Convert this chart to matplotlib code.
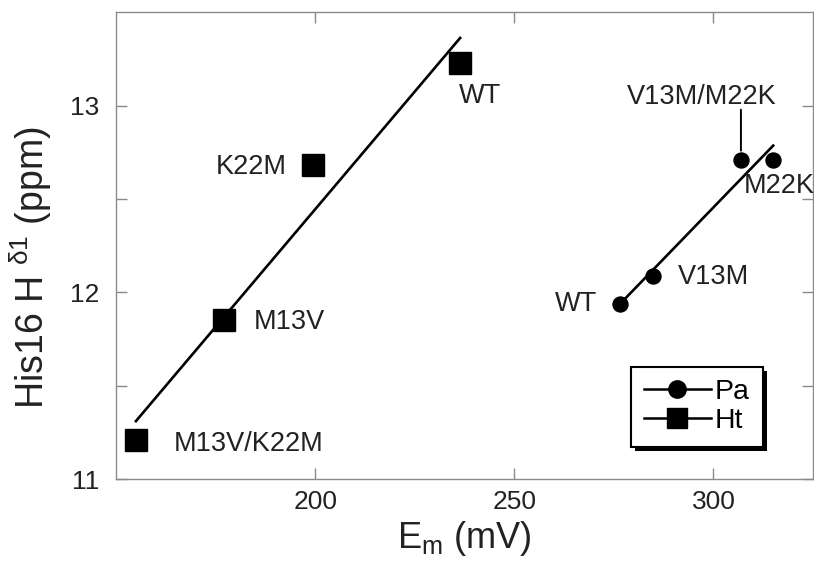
import numpy as np
import matplotlib
matplotlib.use('Agg')
import matplotlib.pyplot as plt
from matplotlib.lines import Line2D
from matplotlib.patches import Rectangle

plt.rcParams['font.family'] = ['Liberation Sans', 'DejaVu Sans']
plt.rcParams['mathtext.fontset'] = 'custom'
plt.rcParams['mathtext.rm'] = 'Liberation Sans'
plt.rcParams['mathtext.it'] = 'Liberation Sans:italic'

# Ht (squares)
ht_em = [155.0, 177.0, 199.5, 236.4]
ht_ppm = [11.21, 11.85, 12.68, 13.23]
ht_names = ['M13V/K22M', 'M13V', 'K22M', 'WT']

# Pa (circles)
pa_em = [276.6, 284.7, 306.9, 315.0]
pa_ppm = [11.94, 12.09, 12.71, 12.71]
pa_names = ['WT', 'V13M', 'V13M/M22K', 'M22K']

x_ticks = [200, 250, 300]
y_ticks = [11, 11.5, 12, 12.5, 13]
y_ticklabels = ['11', '', '12', '', '13']

# label offsets (points) and alignment
ht_off = [(27, -3, 'left'), (22, -1, 'left'), (-19, -1, 'right'), (-1, -24, 'left')]
pa_off = [(-17, 0, 'right'), (18.5, -1, 'left'), (-28.5, 45, 'center'), (-21.5, -19, 'left')]

fig = plt.figure(figsize=(8.14, 5.74), dpi=100)
ax = fig.add_axes([0.1425, 0.165, 0.8563, 0.814])

# fit lines
for xs, ys in [(ht_em, ht_ppm), (pa_em, pa_ppm)]:
    k, b = np.polyfit(xs, ys, 1)
    xx = np.array([min(xs), max(xs)])
    ax.plot(xx, k * xx + b, color='black', lw=1.9, zorder=2)

ax.plot(ht_em, ht_ppm, 's', color='black', ms=15.5, ls='none', zorder=3)
ax.plot(pa_em, pa_ppm, 'o', color='black', ms=10.8, ls='none', zorder=3)

for x, y, name, (dx, dy, ha) in zip(ht_em, ht_ppm, ht_names, ht_off):
    ax.annotate(name, (x, y), xytext=(dx, dy), textcoords='offset points',
                ha=ha, va='center', fontsize=19.5, color='#222222')
for x, y, name, (dx, dy, ha) in zip(pa_em, pa_ppm, pa_names, pa_off):
    ax.annotate(name, (x, y), xytext=(dx, dy), textcoords='offset points',
                ha=ha, va='center', fontsize=19.5, color='#222222')

# leader line for V13M/M22K
ax.annotate('', xy=(pa_em[2], pa_ppm[2]), xytext=(0, 36), textcoords='offset points',
            arrowprops=dict(arrowstyle='-', lw=1.4, color='black', shrinkA=0, shrinkB=6.5))

ax.set_xlim(150, 325)
ax.set_ylim(11, 13.5)
ax.set_xticks(x_ticks)
ax.set_yticks(y_ticks)
ax.set_yticklabels(y_ticklabels)

for s in ax.spines.values():
    s.set_color('#8a8a8a')
    s.set_linewidth(1.0)
ax.tick_params(direction='in', top=True, right=True, length=8, width=1,
               color='#8a8a8a', labelsize=19, labelcolor='#222222')
ax.tick_params(axis='y', pad=12)
ax.tick_params(axis='x', pad=8)

ax.set_xlabel(r'E$_{\mathrm{m}}$ (mV)', fontsize=26, labelpad=3, color='#222222')
ax.set_ylabel(r'His16 H $^{\mathregular{δ1}}$ (ppm)', fontsize=27, color='#222222')
ax.yaxis.set_label_coords(-0.089, 0.452)

handles = [Line2D([], [], color='black', lw=1.8, marker='o', ms=12.5),
           Line2D([], [], color='black', lw=1.8, marker='s', ms=15)]
leg = ax.legend(handles, ['Pa', 'Ht'], loc='lower left', bbox_to_anchor=(0.739, 0.069),
                fontsize=20.5, handlelength=2.35, handletextpad=0.15, borderpad=0.45,
                labelspacing=0.1, borderaxespad=0, fancybox=False, framealpha=1)
leg.get_frame().set_edgecolor('black')
leg.get_frame().set_linewidth(1.5)

# drop shadow under the legend box
fig.canvas.draw()
bb = leg.get_frame().get_window_extent()
ax.add_artist(Rectangle((bb.x0 + 4, bb.y0 - 4), bb.width, bb.height, transform=None,
                        facecolor='black', edgecolor='none', zorder=4.9, clip_on=False))

fig.savefig('out.png', dpi=100)
